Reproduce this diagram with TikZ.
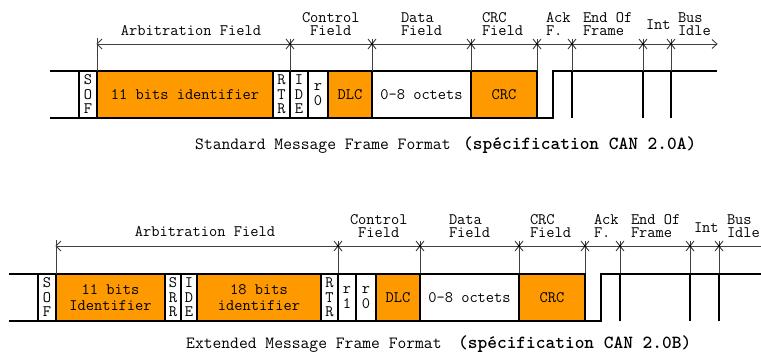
\documentclass[tikz,border=0pt]{standalone}
\definecolor{canorange}{RGB}{255,153,0}
\newcommand{\canlab}{\ttfamily\fontsize{16}{13}\selectfont}
\newcommand{\canbox}{\ttfamily\fontsize{16}{16.5}\selectfont}
\newcommand{\canvert}{\ttfamily\fontsize{16}{14.5}\selectfont}
\newcommand{\cancap}{\ttfamily\fontsize{17.1}{20}\selectfont}
\newcommand{\cancapb}{\ttfamily\bfseries\fontsize{18.5}{20}\selectfont}
\tikzset{
  fieldbox/.style={draw=black, line width=1.6pt, anchor=north west, inner sep=0pt, outer sep=0pt,
    minimum height=47pt, align=center, font=\canbox},
  whitebox/.style={fieldbox, fill=white, font=\canvert},
  orangebox/.style={fieldbox, fill=canorange},
  bus/.style={draw=black, line width=1.8pt},
  guide/.style={draw=black!75, line width=0.9pt},
  lbl/.style={anchor=base west, inner sep=0pt, outer sep=0pt, font=\canlab, align=left},
  lblc/.style={anchor=base, inner sep=0pt, outer sep=0pt, font=\canlab},
  starmark/.pic={
    \draw[guide] (0,-5) -- (0,27);
    \draw[guide] (-4,-5) -- (4,5);
    \draw[guide] (-4,5) -- (4,-5);
    \fill[black] (0,0) circle (1.3pt);
  }
}
\begin{document}
\begin{tikzpicture}[x=1pt,y=-1pt]
\useasboundingbox (0,0) rectangle (761,356);
% ================= Standard frame =================
\node[whitebox, minimum width=18pt] (sofA) at (79,71) {S\\O\\F};
\node[orangebox, minimum width=176pt] (idA) at (97,71) {11 bits identifier};
\node[whitebox, minimum width=17pt] (rtrA) at (273,71) {R\\T\\R};
\node[whitebox, minimum width=18pt] (ideA) at (290,71) {I\\D\\E};
\node[whitebox, minimum width=20pt] (rzA) at (308,71) {r\\0};
\node[orangebox, minimum width=44pt] (dlcA) at (328,71) {DLC};
\node[fieldbox, fill=white, minimum width=99pt] (dataA) at (372,71) {0-8 octets};
\node[orangebox, minimum width=66pt] (crcA) at (471,71) {CRC};
\coordinate (startAt) at (50,71);
\coordinate (startAb) at (50,118);
\coordinate (ackAb) at (553,118);
\coordinate (ackAt) at (553,71);
\coordinate (endAt) at (717,71);
\draw[bus] (startAt) -- (sofA.north west);
\draw[bus] (startAb) -- (sofA.south west);
\draw[bus] (crcA.south east) -- (ackAb) -- (ackAt) -- (endAt);
\foreach \xx/\nm in {572/eofA, 643/intA, 671/idleA} {
  \coordinate (\nm t) at (\xx,71);
  \coordinate (\nm b) at (\xx,118);
  \draw[bus] (\nm t) -- (\nm b);
}
% dimension line
\coordinate (arrLA) at (97,44);
\coordinate (arrRA) at (717,44);
\draw[guide] (arrLA) -- (arrRA);
\draw[guide] (97,38) -- (idA.north west);
\draw[guide] (102,39) -- (arrLA) -- (102,49);
\draw[guide] (712,39.5) -- (arrRA) -- (712,48.5);
\foreach \xx in {290,372,471,537,572,643,671} { \pic at (\xx,44) {starmark}; }
% labels (base anchor = baseline of the last line)
\node[lblc] (arbA) at (191,35.5) {Arbitration Field};
\node[lbl] (ctlA) at (302,35.7) {Control\\\ Field};
\node[lbl] (datA) at (401,35.7) {Data\\Field};
\node[lbl] (crcfA) at (482,35.7) {CRC\\Field};
\node[lbl] (ackfA) at (546,35.7) {Ack\\F.};
\node[lbl] (eofA) at (583,35.7) {End Of\\Frame};
\node[lbl] (intlA) at (646,29.7) {Int};
\node[lbl] (busA) at (678,35.7) {Bus\\Idle};
\node[anchor=base west, inner sep=0pt, font=\cancap] (capA) at (195,149) {Standard Message Frame Format};
\node[anchor=base west, inner sep=0pt, font=\cancapb] (capAb) at (463,149) {(spécification CAN 2.0A)};
% ================= Extended frame =================
\node[whitebox, minimum width=18pt] (sofB) at (38,274) {S\\O\\F};
\node[orangebox, minimum width=109pt] (idB) at (56,274) {11 bits\\Identifier};
\node[whitebox, minimum width=16pt] (srrB) at (165,274) {S\\R\\R};
\node[whitebox, minimum width=16pt] (ideB) at (181,274) {I\\D\\E};
\node[orangebox, minimum width=124pt] (idxB) at (197,274) {18 bits\\identifier};
\node[whitebox, minimum width=17pt] (rtrB) at (321,274) {R\\T\\R};
\node[whitebox, minimum width=18pt] (roB) at (338,274) {r\\1};
\node[whitebox, minimum width=20pt] (rzB) at (356,274) {r\\0};
\node[orangebox, minimum width=44pt] (dlcB) at (376,274) {DLC};
\node[fieldbox, fill=white, minimum width=99pt] (dataB) at (420,274) {0-8 octets};
\node[orangebox, minimum width=66pt] (crcB) at (519,274) {CRC};
\coordinate (startBt) at (9,274);
\coordinate (startBb) at (9,321);
\coordinate (ackBb) at (601,321);
\coordinate (ackBt) at (601,274);
\coordinate (endBt) at (761,274);
\draw[bus] (startBt) -- (sofB.north west);
\draw[bus] (startBb) -- (sofB.south west);
\draw[bus] (crcB.south east) -- (ackBb) -- (ackBt) -- (endBt);
\foreach \xx/\nm in {620/eofB, 690/intB, 719/idleB} {
  \coordinate (\nm t) at (\xx,274);
  \coordinate (\nm b) at (\xx,321);
  \draw[bus] (\nm t) -- (\nm b);
}
\coordinate (arrLB) at (56,246);
\coordinate (arrRB) at (761,246);
\draw[guide] (arrLB) -- (arrRB);
\draw[guide] (56,240) -- (idB.north west);
\draw[guide] (61,241) -- (arrLB) -- (61,251);
\foreach \xx in {338,420,519,585,620,690,719} { \pic at (\xx,246) {starmark}; }
\node[lblc] (arbB) at (205,236.7) {Arbitration Field};
\node[lbl] (ctlB) at (350,237.7) {Control\\\ Field};
\node[lbl] (datB) at (449,237.7) {Data\\Field};
\node[lbl] (crcfB) at (530,237.7) {CRC\\Field};
\node[lbl] (ackfB) at (594,237.7) {Ack\\F.};
\node[lbl] (eofB) at (631,237.7) {End Of\\Frame};
\node[lbl] (intlB) at (694,232) {Int};
\node[lbl] (busB) at (727,237.7) {Bus\\Idle};
\node[anchor=base west, inner sep=0pt, font=\cancap] (capB) at (186,348) {Extended Message Frame Format};
\node[anchor=base west, inner sep=0pt, font=\cancapb] (capBb) at (458,348) {(spécification CAN 2.0B)};
\end{tikzpicture}
\end{document}
